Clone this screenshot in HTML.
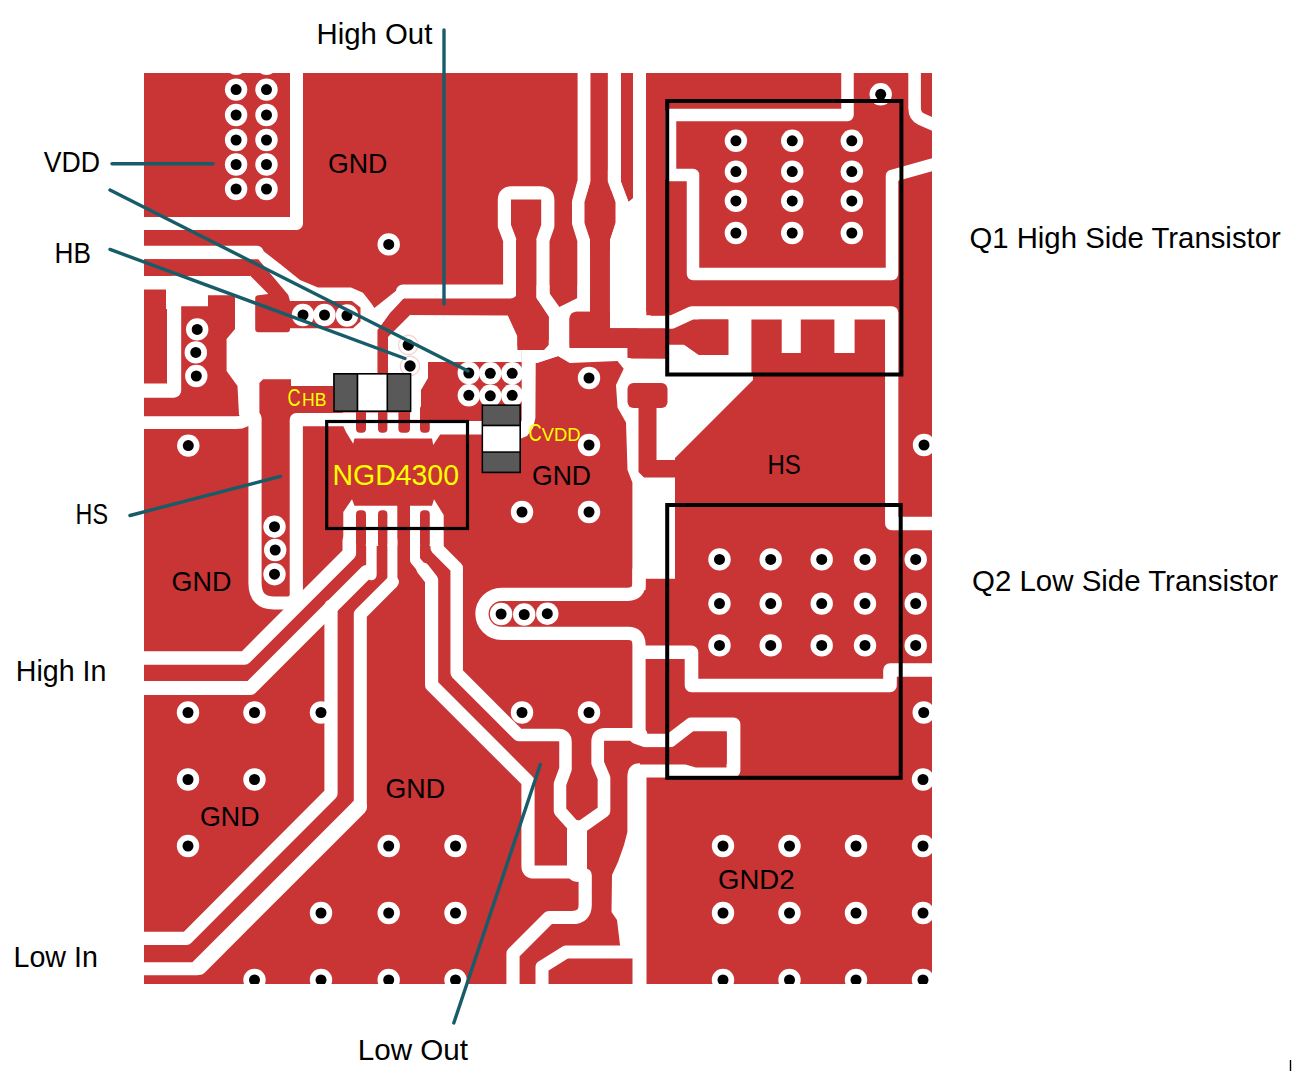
<!DOCTYPE html>
<html><head><meta charset="utf-8"><title>PCB layout</title>
<style>
html,body{margin:0;padding:0;background:#fff;}
body{width:1293px;height:1071px;overflow:hidden;position:relative;font-family:"Liberation Sans",sans-serif;}
svg{position:absolute;left:0;top:0;display:block;}
text{font-family:"Liberation Sans",sans-serif;}
</style></head><body>
<svg width="1293" height="1071" viewBox="0 0 1293 1071">
<defs><clipPath id="pcb"><rect x="144" y="73" width="788" height="911"/></clipPath></defs>
<g clip-path="url(#pcb)">
<rect x="144" y="73" width="788" height="911" fill="#C93434"/>
<!-- gaps -->
<path d="M296.5,60 V223.5 H130" fill="none" stroke="#fff" stroke-width="13" stroke-linecap="round" stroke-linejoin="round" />
<path d="M130,252.5 H257" fill="none" stroke="#fff" stroke-width="13.4" stroke-linecap="round" stroke-linejoin="round" />
<path d="M130,282.7 H250" fill="none" stroke="#fff" stroke-width="13.4" stroke-linecap="round" stroke-linejoin="round" />
<path d="M174.1,282.7 V390.6 H130" fill="none" stroke="#fff" stroke-width="14.2" stroke-linecap="round" stroke-linejoin="round" />
<polygon points="166,289 178,289 168,309 166,309" fill="#fff" />
<polygon points="181,288 236,288 236,295.3 208,295.3 208,306.2 181,306.2" fill="#fff" />
<path d="M130,422.7 H236 Q248,422.7 252,412" fill="none" stroke="#fff" stroke-width="12.7" stroke-linecap="round" stroke-linejoin="round" />
<polygon points="257,246 282,265.5 300,280 318,287.6 351,287.6 363,292.8 371,303 374.4,308 404,284.5 404,298.5 390,313 377.9,330 377.9,412 333,412 333,386 291,386 291,379.3 263,379.3 259.4,383 259.4,416 247,424 239,415 237.5,386 226.6,371 226.6,339 235,329 235,288 250,276 250,259" fill="#fff" />
<path d="M403,291.5 H510.4" fill="none" stroke="#fff" stroke-width="14" stroke-linecap="round" stroke-linejoin="round" stroke-linecap="butt"/>
<path d="M509.7,291.5 V240 L504.4,226 V200 Q504.4,192.8 512,192.8 H540 Q547.8,192.8 547.8,200 V226 L542.9,240 V296" fill="none" stroke="#fff" stroke-width="13.2" stroke-linecap="round" stroke-linejoin="round" />
<path d="M584.1,60 V181 L578.5,202 V223 L583.8,240 V300" fill="none" stroke="#fff" stroke-width="13" stroke-linecap="round" stroke-linejoin="round" stroke-linecap="butt"/>
<path d="M614.3,60 V185" fill="none" stroke="#fff" stroke-width="13.4" stroke-linecap="round" stroke-linejoin="round" />
<path d="M639.5,60 V322 H672 L692,312.8 H891.7 V523.5 H940" fill="none" stroke="#fff" stroke-width="13.3" stroke-linecap="round" stroke-linejoin="round" />
<polygon points="607.6,170 607.6,181 615.3,202 615.3,223 609.7,240 609.7,328.3 646.2,328.3 646.2,198 632.9,198 628.7,201.5 621,181 621,170" fill="#fff" />
<polygon points="536.2,285 536.2,298 548.7,316.7 548.7,345 544,350 521.7,350 521.7,362.5 536.7,363 558.3,356 570,363 570,348 569.5,345 569.5,318 575,311.7 590.1,311.7 590.1,285 577.5,285 577.5,298 559.4,307 549.5,293.2 549.5,285" fill="#fff" />
<polygon points="521.7,350 535.8,350 535.4,418 533,428 527,436 521,438.5 516,437 521.7,420" fill="#fff" />
<path d="M847.5,60 V115 H670 V175 H693 V274 H892 V176 L940,162.5" fill="none" stroke="#fff" stroke-width="12.5" stroke-linecap="round" stroke-linejoin="round" />
<path d="M914.6,60 V108 Q914.6,116 921,119 L940,127.5" fill="none" stroke="#fff" stroke-width="12.6" stroke-linecap="round" stroke-linejoin="round" />
<rect x="728" y="312" width="23.4" height="68" rx="0" fill="#fff"/>
<rect x="781.7" y="312" width="19.1" height="41" rx="0" fill="#fff"/>
<rect x="834.4" y="312" width="20.2" height="41" rx="0" fill="#fff"/>
<polygon points="570,348 627.5,348 627.5,358 666,358.6 666,344.4 684,344.4 699,354.9 728.5,354.9 753,376 753,380 675,458 675,578.7 645.6,578.7 645.6,590 632.4,590 632.4,482.5 627.5,470 626,422.5 617.5,407.5 616,385 623.7,368.7 617.5,361 570,363 558,356 537,363 537,350 549,340" fill="#fff" />
<polygon points="403,315 508,315.5 517.4,336 517.4,350 521.7,350 521.7,362 428,362 428,378 421,390 421,423 410.8,423 410.8,373 388,373 388,330" fill="#fff" />
<polygon points="342.8,412.4 420.8,412.4 420.8,421 482,421 482,434.5 440.2,434.5 433.2,445 432,438.5 354.4,438.5 353.2,443.7 346,432 342.8,425" fill="#fff" />
<polygon points="343.3,546 343.3,512 352,499.3 354.5,505.7 397.3,505.7 397.3,546" fill="#fff" />
<polygon points="410,546 410,505.7 432,505.7 434,499.3 443.7,515 443.7,546" fill="#fff" />
<path d="M255,418 V583 Q255,603 274,603 H291 L296.3,598 V419.6 H345" fill="none" stroke="#fff" stroke-width="13.2" stroke-linecap="round" stroke-linejoin="round" />
<path d="M130,658 H244.7 L349.3,553.4 V540" fill="none" stroke="#fff" stroke-width="13.6" stroke-linecap="round" stroke-linejoin="round" />
<path d="M130,688 H250.5 L366.5,572" fill="none" stroke="#fff" stroke-width="14" stroke-linecap="round" stroke-linejoin="round" />
<path d="M371.4,540 V575" fill="none" stroke="#fff" stroke-width="10.5" stroke-linecap="round" stroke-linejoin="round" />
<path d="M331,606 V793.5 L186.5,938.3 H130" fill="none" stroke="#fff" stroke-width="13.2" stroke-linecap="round" stroke-linejoin="round" />
<path d="M392.4,540 V584" fill="none" stroke="#fff" stroke-width="10" stroke-linecap="round" stroke-linejoin="round" />
<path d="M392.4,582 L360.3,614.1 V805.7 L197.3,968.7 H130" fill="none" stroke="#fff" stroke-width="13" stroke-linecap="round" stroke-linejoin="round" />
<path d="M359,807 L199,967" fill="none" stroke="#fff" stroke-width="16" stroke-linecap="round" stroke-linejoin="round" />
<path d="M415,540 V560 L424,571" fill="none" stroke="#fff" stroke-width="10" stroke-linecap="round" stroke-linejoin="round" />
<path d="M423,569 L431.6,580 V685 L528,781.4 V866 Q528,872 534,872 H577" fill="none" stroke="#fff" stroke-width="13.2" stroke-linecap="round" stroke-linejoin="round" />
<path d="M436.7,540 V548 L456.7,568 V673 L518.7,735 H558 Q565.5,735 565.5,742 V769 L560,784 V811 L577,830" fill="none" stroke="#fff" stroke-width="12.5" stroke-linecap="round" stroke-linejoin="round" />
<path d="M641,734.3 H605 Q597.7,734.3 597.7,742 V763 L604,778 V811 L577,830" fill="none" stroke="#fff" stroke-width="12.7" stroke-linecap="round" stroke-linejoin="round" />
<path d="M577,830 V872" fill="none" stroke="#fff" stroke-width="20" stroke-linecap="round" stroke-linejoin="round" />
<path d="M585.2,875 V905 Q585.2,917.5 572,917.5 H549 L513,953.5 V995" fill="none" stroke="#fff" stroke-width="13.2" stroke-linecap="round" stroke-linejoin="round" />
<path d="M632,952 H566 L542,967 V995" fill="none" stroke="#fff" stroke-width="13" stroke-linecap="round" stroke-linejoin="round" />
<path d="M639,570 V583 Q639,594.3 628,594.3 H501.5 A19.55,19.55 0 0 0 501.5,633.4 H628 Q639,633.4 639,645 V736" fill="none" stroke="#fff" stroke-width="13.2" stroke-linecap="round" stroke-linejoin="round" />
<path d="M645,652.2 H691.5 V685.5 H890 V670 H940" fill="none" stroke="#fff" stroke-width="13.6" stroke-linecap="round" stroke-linejoin="round" />
<path d="M636,737 L646,740.5 H670 L691,724.4 H733.6 V770.7 H645" fill="none" stroke="#fff" stroke-width="13.6" stroke-linecap="round" stroke-linejoin="round" />
<path d="M627.4,777 Q627.4,763.2 640,763.2 H646.5 V990 H632.5 V958 L620,945 L617,920 L611.5,912 L612,875 L618,862 L624,845 L627.4,832 Z" fill="#fff"/>
<!-- red overlays -->
<path d="M144,259.2 H258.3 L288.3,295 L290,301 H352 L360.5,307.5 V321.5 L353,328.2 H290 V329 Q290,332.3 287,332.3 H258.5 Q255.2,332.3 255.2,329 V298.5 Q255.2,295.3 258.5,295.3 L268.3,294 L250,275.5 H144 Z" fill="#C93434"/>
<polygon points="403,299 515,299 515,315 410,315 388,337 388,412 377.5,412 377.5,330" fill="#C93434" />
<polygon points="516,240 536.2,240 536.2,298 548.7,316.7 548.7,345 544,350 521,350 517.4,346 517.4,336 508,315.5 506.7,313 506.7,299 516,299" fill="#C93434" />
<path d="M569.5,348 V319 Q569.5,311.7 577,311.7 H609.8 V348 Z" fill="#C93434"/>
<rect x="590.1" y="240" width="19.6" height="90" rx="0" fill="#C93434"/>
<polygon points="600,328.3 665,328.3 665,358.6 631,358.6 627.8,355 627.8,347 600,347" fill="#C93434" />
<polygon points="590.8,73 607.6,73 607.6,181 615.3,202 615.3,223 609.7,240 609.7,250 590.1,250 590.1,240 584.5,223 584.5,202 590.8,181" fill="#C93434" />
<polygon points="621,73 632.9,73 632.9,198 628.7,201.5 621,181" fill="#C93434" />
<polygon points="646.2,73 665,73 665,315.8 651,315.8 646.2,311" fill="#C93434" />
<polygon points="646,329.5 684.4,329.5 699,319.6 728.5,319.6 728.5,354.9 699,354.9 684,344.4 646,344.4" fill="#C93434" />
<rect x="627.5" y="383" width="40" height="25" rx="6" fill="#C93434"/>
<polygon points="638.5,400 656.5,400 656.5,460 690,460 690,477.5 644,477.5 638.5,472" fill="#C93434" />
<rect x="356" y="405" width="10" height="27.7" rx="4" fill="#C93434"/>
<rect x="378" y="405" width="9.4" height="27.7" rx="4" fill="#C93434"/>
<rect x="398.4" y="405" width="11.6" height="27.7" rx="4" fill="#C93434"/>
<rect x="420" y="405" width="9.8" height="27.7" rx="4" fill="#C93434"/>
<rect x="356" y="510.3" width="10" height="37.7" rx="4" fill="#C93434"/>
<rect x="378" y="510.3" width="9.4" height="37.7" rx="4" fill="#C93434"/>
<rect x="420" y="510.3" width="9.8" height="37.7" rx="4" fill="#C93434"/>
<polygon points="640,747.6 677,747.6 695.8,732.2 726.5,732.2 726.5,767.5 695.8,767.5 685.5,764.4 640,764.4" fill="#C93434" />
<!-- vias -->
<circle cx="236.1" cy="63.8" r="11.2" fill="#fff"/><circle cx="236.1" cy="63.8" r="5.5" fill="#000"/>
<circle cx="236.1" cy="89.6" r="11.2" fill="#fff"/><circle cx="236.1" cy="89.6" r="5.5" fill="#000"/>
<circle cx="236.1" cy="115" r="11.2" fill="#fff"/><circle cx="236.1" cy="115" r="5.5" fill="#000"/>
<circle cx="236.1" cy="140" r="11.2" fill="#fff"/><circle cx="236.1" cy="140" r="5.5" fill="#000"/>
<circle cx="236.1" cy="164.5" r="11.2" fill="#fff"/><circle cx="236.1" cy="164.5" r="5.5" fill="#000"/>
<circle cx="236.1" cy="189" r="11.2" fill="#fff"/><circle cx="236.1" cy="189" r="5.5" fill="#000"/>
<circle cx="266.5" cy="63.8" r="11.2" fill="#fff"/><circle cx="266.5" cy="63.8" r="5.5" fill="#000"/>
<circle cx="266.5" cy="89.6" r="11.2" fill="#fff"/><circle cx="266.5" cy="89.6" r="5.5" fill="#000"/>
<circle cx="266.5" cy="115" r="11.2" fill="#fff"/><circle cx="266.5" cy="115" r="5.5" fill="#000"/>
<circle cx="266.5" cy="140" r="11.2" fill="#fff"/><circle cx="266.5" cy="140" r="5.5" fill="#000"/>
<circle cx="266.5" cy="164.5" r="11.2" fill="#fff"/><circle cx="266.5" cy="164.5" r="5.5" fill="#000"/>
<circle cx="266.5" cy="189" r="11.2" fill="#fff"/><circle cx="266.5" cy="189" r="5.5" fill="#000"/>
<circle cx="388.7" cy="244.4" r="11.2" fill="#fff"/><circle cx="388.7" cy="244.4" r="5.5" fill="#000"/>
<circle cx="197.2" cy="329.4" r="11.2" fill="#fff"/><circle cx="197.2" cy="329.4" r="5.5" fill="#000"/>
<circle cx="195.8" cy="352.4" r="11.2" fill="#fff"/><circle cx="195.8" cy="352.4" r="5.5" fill="#000"/>
<circle cx="196.3" cy="376" r="11.2" fill="#fff"/><circle cx="196.3" cy="376" r="5.5" fill="#000"/>
<circle cx="303" cy="315" r="11.2" fill="#fff"/><circle cx="303" cy="315" r="5.5" fill="#000"/>
<circle cx="324.5" cy="315" r="11.2" fill="#fff"/><circle cx="324.5" cy="315" r="5.5" fill="#000"/>
<circle cx="347" cy="315.5" r="11.2" fill="#fff"/><circle cx="347" cy="315.5" r="5.5" fill="#000"/>
<circle cx="468.8" cy="373" r="11.2" fill="#fff"/><circle cx="468.8" cy="373" r="5.5" fill="#000"/>
<circle cx="490.3" cy="373.3" r="11.2" fill="#fff"/><circle cx="490.3" cy="373.3" r="5.5" fill="#000"/>
<circle cx="512.2" cy="373.3" r="11.2" fill="#fff"/><circle cx="512.2" cy="373.3" r="5.5" fill="#000"/>
<circle cx="468.8" cy="395.3" r="11.2" fill="#fff"/><circle cx="468.8" cy="395.3" r="5.5" fill="#000"/>
<circle cx="490.3" cy="395.8" r="11.2" fill="#fff"/><circle cx="490.3" cy="395.8" r="5.5" fill="#000"/>
<circle cx="512.2" cy="395.3" r="11.2" fill="#fff"/><circle cx="512.2" cy="395.3" r="5.5" fill="#000"/>
<circle cx="188.3" cy="445.6" r="11.2" fill="#fff"/><circle cx="188.3" cy="445.6" r="5.5" fill="#000"/>
<circle cx="274.5" cy="526.7" r="11.2" fill="#fff"/><circle cx="274.5" cy="526.7" r="5.5" fill="#000"/>
<circle cx="275.2" cy="550" r="11.2" fill="#fff"/><circle cx="275.2" cy="550" r="5.5" fill="#000"/>
<circle cx="274.5" cy="574.2" r="11.2" fill="#fff"/><circle cx="274.5" cy="574.2" r="5.5" fill="#000"/>
<circle cx="589" cy="378" r="11.2" fill="#fff"/><circle cx="589" cy="378" r="5.5" fill="#000"/>
<circle cx="589" cy="445" r="11.2" fill="#fff"/><circle cx="589" cy="445" r="5.5" fill="#000"/>
<circle cx="589" cy="512" r="11.2" fill="#fff"/><circle cx="589" cy="512" r="5.5" fill="#000"/>
<circle cx="522" cy="512" r="11.2" fill="#fff"/><circle cx="522" cy="512" r="5.5" fill="#000"/>
<circle cx="880.7" cy="94.3" r="11.2" fill="#fff"/><circle cx="880.7" cy="94.3" r="5.5" fill="#000"/>
<circle cx="924" cy="445" r="11.2" fill="#fff"/><circle cx="924" cy="445" r="5.5" fill="#000"/>
<circle cx="501.1" cy="614" r="11.2" fill="#fff"/><circle cx="501.1" cy="614" r="5.5" fill="#000"/>
<circle cx="524.2" cy="614.5" r="11.2" fill="#fff"/><circle cx="524.2" cy="614.5" r="5.5" fill="#000"/>
<circle cx="547.3" cy="613.7" r="11.2" fill="#fff"/><circle cx="547.3" cy="613.7" r="5.5" fill="#000"/>
<circle cx="735.9" cy="140.8" r="11.2" fill="#fff"/><circle cx="735.9" cy="140.8" r="5.5" fill="#000"/>
<circle cx="735.9" cy="171.6" r="11.2" fill="#fff"/><circle cx="735.9" cy="171.6" r="5.5" fill="#000"/>
<circle cx="735.9" cy="200.9" r="11.2" fill="#fff"/><circle cx="735.9" cy="200.9" r="5.5" fill="#000"/>
<circle cx="735.9" cy="233" r="11.2" fill="#fff"/><circle cx="735.9" cy="233" r="5.5" fill="#000"/>
<circle cx="792.2" cy="140.8" r="11.2" fill="#fff"/><circle cx="792.2" cy="140.8" r="5.5" fill="#000"/>
<circle cx="792.2" cy="171.6" r="11.2" fill="#fff"/><circle cx="792.2" cy="171.6" r="5.5" fill="#000"/>
<circle cx="792.2" cy="200.9" r="11.2" fill="#fff"/><circle cx="792.2" cy="200.9" r="5.5" fill="#000"/>
<circle cx="792.2" cy="233" r="11.2" fill="#fff"/><circle cx="792.2" cy="233" r="5.5" fill="#000"/>
<circle cx="851.8" cy="140.8" r="11.2" fill="#fff"/><circle cx="851.8" cy="140.8" r="5.5" fill="#000"/>
<circle cx="851.8" cy="171.6" r="11.2" fill="#fff"/><circle cx="851.8" cy="171.6" r="5.5" fill="#000"/>
<circle cx="851.8" cy="200.9" r="11.2" fill="#fff"/><circle cx="851.8" cy="200.9" r="5.5" fill="#000"/>
<circle cx="851.8" cy="233" r="11.2" fill="#fff"/><circle cx="851.8" cy="233" r="5.5" fill="#000"/>
<circle cx="719.5" cy="559.4" r="11.2" fill="#fff"/><circle cx="719.5" cy="559.4" r="5.5" fill="#000"/>
<circle cx="719.5" cy="603.6" r="11.2" fill="#fff"/><circle cx="719.5" cy="603.6" r="5.5" fill="#000"/>
<circle cx="719.5" cy="645.4" r="11.2" fill="#fff"/><circle cx="719.5" cy="645.4" r="5.5" fill="#000"/>
<circle cx="770.7" cy="559.4" r="11.2" fill="#fff"/><circle cx="770.7" cy="559.4" r="5.5" fill="#000"/>
<circle cx="770.7" cy="603.6" r="11.2" fill="#fff"/><circle cx="770.7" cy="603.6" r="5.5" fill="#000"/>
<circle cx="770.7" cy="645.4" r="11.2" fill="#fff"/><circle cx="770.7" cy="645.4" r="5.5" fill="#000"/>
<circle cx="821.7" cy="559.4" r="11.2" fill="#fff"/><circle cx="821.7" cy="559.4" r="5.5" fill="#000"/>
<circle cx="821.7" cy="603.6" r="11.2" fill="#fff"/><circle cx="821.7" cy="603.6" r="5.5" fill="#000"/>
<circle cx="821.7" cy="645.4" r="11.2" fill="#fff"/><circle cx="821.7" cy="645.4" r="5.5" fill="#000"/>
<circle cx="865" cy="559.4" r="11.2" fill="#fff"/><circle cx="865" cy="559.4" r="5.5" fill="#000"/>
<circle cx="865" cy="603.6" r="11.2" fill="#fff"/><circle cx="865" cy="603.6" r="5.5" fill="#000"/>
<circle cx="865" cy="645.4" r="11.2" fill="#fff"/><circle cx="865" cy="645.4" r="5.5" fill="#000"/>
<circle cx="915.7" cy="559.4" r="11.2" fill="#fff"/><circle cx="915.7" cy="559.4" r="5.5" fill="#000"/>
<circle cx="915.7" cy="603.6" r="11.2" fill="#fff"/><circle cx="915.7" cy="603.6" r="5.5" fill="#000"/>
<circle cx="915.7" cy="645.4" r="11.2" fill="#fff"/><circle cx="915.7" cy="645.4" r="5.5" fill="#000"/>
<circle cx="188" cy="712.5" r="11.2" fill="#fff"/><circle cx="188" cy="712.5" r="5.5" fill="#000"/>
<circle cx="254.5" cy="712.5" r="11.2" fill="#fff"/><circle cx="254.5" cy="712.5" r="5.5" fill="#000"/>
<circle cx="321" cy="712.5" r="11.2" fill="#fff"/><circle cx="321" cy="712.5" r="5.5" fill="#000"/>
<circle cx="522" cy="712.5" r="11.2" fill="#fff"/><circle cx="522" cy="712.5" r="5.5" fill="#000"/>
<circle cx="589" cy="712.5" r="11.2" fill="#fff"/><circle cx="589" cy="712.5" r="5.5" fill="#000"/>
<circle cx="923.7" cy="712.5" r="11.2" fill="#fff"/><circle cx="923.7" cy="712.5" r="5.5" fill="#000"/>
<circle cx="188" cy="779.5" r="11.2" fill="#fff"/><circle cx="188" cy="779.5" r="5.5" fill="#000"/>
<circle cx="254.5" cy="779.5" r="11.2" fill="#fff"/><circle cx="254.5" cy="779.5" r="5.5" fill="#000"/>
<circle cx="923" cy="779.5" r="11.2" fill="#fff"/><circle cx="923" cy="779.5" r="5.5" fill="#000"/>
<circle cx="188" cy="846" r="11.2" fill="#fff"/><circle cx="188" cy="846" r="5.5" fill="#000"/>
<circle cx="388.7" cy="846" r="11.2" fill="#fff"/><circle cx="388.7" cy="846" r="5.5" fill="#000"/>
<circle cx="455.5" cy="846" r="11.2" fill="#fff"/><circle cx="455.5" cy="846" r="5.5" fill="#000"/>
<circle cx="723" cy="846" r="11.2" fill="#fff"/><circle cx="723" cy="846" r="5.5" fill="#000"/>
<circle cx="789.5" cy="846" r="11.2" fill="#fff"/><circle cx="789.5" cy="846" r="5.5" fill="#000"/>
<circle cx="856" cy="846" r="11.2" fill="#fff"/><circle cx="856" cy="846" r="5.5" fill="#000"/>
<circle cx="923" cy="846" r="11.2" fill="#fff"/><circle cx="923" cy="846" r="5.5" fill="#000"/>
<circle cx="321" cy="913" r="11.2" fill="#fff"/><circle cx="321" cy="913" r="5.5" fill="#000"/>
<circle cx="388.7" cy="913" r="11.2" fill="#fff"/><circle cx="388.7" cy="913" r="5.5" fill="#000"/>
<circle cx="455.5" cy="913" r="11.2" fill="#fff"/><circle cx="455.5" cy="913" r="5.5" fill="#000"/>
<circle cx="723" cy="913" r="11.2" fill="#fff"/><circle cx="723" cy="913" r="5.5" fill="#000"/>
<circle cx="789.5" cy="913" r="11.2" fill="#fff"/><circle cx="789.5" cy="913" r="5.5" fill="#000"/>
<circle cx="856" cy="913" r="11.2" fill="#fff"/><circle cx="856" cy="913" r="5.5" fill="#000"/>
<circle cx="923" cy="913" r="11.2" fill="#fff"/><circle cx="923" cy="913" r="5.5" fill="#000"/>
<circle cx="254.5" cy="980" r="11.2" fill="#fff"/><circle cx="254.5" cy="980" r="5.5" fill="#000"/>
<circle cx="321" cy="980" r="11.2" fill="#fff"/><circle cx="321" cy="980" r="5.5" fill="#000"/>
<circle cx="388.7" cy="980" r="11.2" fill="#fff"/><circle cx="388.7" cy="980" r="5.5" fill="#000"/>
<circle cx="455.5" cy="980" r="11.2" fill="#fff"/><circle cx="455.5" cy="980" r="5.5" fill="#000"/>
<circle cx="723" cy="980" r="11.2" fill="#fff"/><circle cx="723" cy="980" r="5.5" fill="#000"/>
<circle cx="789.5" cy="980" r="11.2" fill="#fff"/><circle cx="789.5" cy="980" r="5.5" fill="#000"/>
<circle cx="856" cy="980" r="11.2" fill="#fff"/><circle cx="856" cy="980" r="5.5" fill="#000"/>
<circle cx="923" cy="980" r="11.2" fill="#fff"/><circle cx="923" cy="980" r="5.5" fill="#000"/>
<circle cx="408.3" cy="345" r="9.6" fill="#fff" stroke="#f4d4d4" stroke-width="1.6"/><circle cx="410" cy="366" r="9.6" fill="#fff" stroke="#f4d4d4" stroke-width="1.6"/>
<circle cx="408.3" cy="345" r="9" fill="#fff"/><circle cx="408.3" cy="345" r="5.7" fill="#000"/>
<circle cx="410" cy="366" r="9" fill="#fff"/><circle cx="410" cy="366" r="5.7" fill="#000"/>
</g>
<!-- components -->
<rect x="333.1" y="373" width="78.3" height="39" fill="#000"/>
<rect x="334.8" y="374.6" width="21.8" height="35.8" fill="#595959"/>
<rect x="358.3" y="374.6" width="28.2" height="35.8" fill="#fff"/>
<rect x="388.1" y="374.6" width="21.8" height="35.8" fill="#595959"/>
<rect x="481.6" y="404.4" width="39.4" height="68.8" fill="#000"/>
<rect x="483.1" y="406" width="36.3" height="18.6" fill="#595959"/>
<rect x="483.1" y="426.3" width="36.3" height="25" fill="#fff"/>
<rect x="483.1" y="452.8" width="36.3" height="18.8" fill="#595959"/>
<rect x="667.2" y="101" width="234.2" height="273.5" fill="none" stroke="#000" stroke-width="4"/>
<rect x="667.2" y="505" width="233.5" height="272.8" fill="none" stroke="#000" stroke-width="4"/>
<rect x="326.7" y="421.5" width="140.8" height="107" fill="none" stroke="#000" stroke-width="3.2"/>
<!-- leaders -->
<line x1="444" y1="30" x2="444" y2="304" stroke="#175C69" stroke-width="3.4" stroke-linecap="round"/>
<line x1="112" y1="163.8" x2="213" y2="163.8" stroke="#175C69" stroke-width="3.4" stroke-linecap="round"/>
<line x1="110" y1="190" x2="468" y2="371" stroke="#175C69" stroke-width="3.4" stroke-linecap="round"/>
<line x1="110" y1="249.4" x2="405" y2="358.5" stroke="#175C69" stroke-width="3.4" stroke-linecap="round"/>
<line x1="130" y1="515.5" x2="280.5" y2="476.3" stroke="#175C69" stroke-width="3.4" stroke-linecap="round"/>
<line x1="540.3" y1="764.5" x2="453.8" y2="1023" stroke="#175C69" stroke-width="3.4" stroke-linecap="round"/>
<!-- labels -->
<text x="316.5" y="44.4" font-size="30" fill="#000" textLength="115.8" lengthAdjust="spacingAndGlyphs" >High Out</text>
<text x="43.7" y="171.8" font-size="30" fill="#000" textLength="56.3" lengthAdjust="spacingAndGlyphs" >VDD</text>
<text x="54.6" y="263" font-size="30" fill="#000" textLength="36.4" lengthAdjust="spacingAndGlyphs" >HB</text>
<text x="75.6" y="523.7" font-size="30" fill="#000" textLength="32.4" lengthAdjust="spacingAndGlyphs" >HS</text>
<text x="15.8" y="680.7" font-size="30" fill="#000" textLength="90.7" lengthAdjust="spacingAndGlyphs" >High In</text>
<text x="13.5" y="967.2" font-size="30" fill="#000" textLength="84.3" lengthAdjust="spacingAndGlyphs" >Low In</text>
<text x="357.7" y="1060" font-size="30" fill="#000" textLength="110.3" lengthAdjust="spacingAndGlyphs" >Low Out</text>
<text x="969.4" y="247.9" font-size="30" fill="#000" textLength="311.4" lengthAdjust="spacingAndGlyphs" >Q1 High Side Transistor</text>
<text x="972" y="591.4" font-size="30" fill="#000" textLength="306" lengthAdjust="spacingAndGlyphs" >Q2 Low Side Transistor</text>
<text x="328" y="172.6" font-size="28" fill="#000" textLength="59.4" lengthAdjust="spacingAndGlyphs" >GND</text>
<text x="532" y="485" font-size="28" fill="#000" textLength="59" lengthAdjust="spacingAndGlyphs" >GND</text>
<text x="171.6" y="591" font-size="28" fill="#000" textLength="59.8" lengthAdjust="spacingAndGlyphs" >GND</text>
<text x="200" y="825.5" font-size="28" fill="#000" textLength="59.5" lengthAdjust="spacingAndGlyphs" >GND</text>
<text x="385.5" y="798" font-size="28" fill="#000" textLength="59.5" lengthAdjust="spacingAndGlyphs" >GND</text>
<text x="718" y="889" font-size="28" fill="#000" textLength="76.5" lengthAdjust="spacingAndGlyphs" >GND2</text>
<text x="767.5" y="474" font-size="28" fill="#000" textLength="33.3" lengthAdjust="spacingAndGlyphs" >HS</text>
<text x="332.5" y="485" font-size="29" fill="#FFFF00" textLength="126.5" lengthAdjust="spacingAndGlyphs" >NGD4300</text>
<text x="287.5" y="406" font-size="24" fill="#FFFF00" textLength="13.1" lengthAdjust="spacingAndGlyphs" >C</text>
<text x="302" y="406" font-size="18.5" fill="#FFFF00" textLength="24.4" lengthAdjust="spacingAndGlyphs" >HB</text>
<text x="528.4" y="440.6" font-size="24" fill="#FFFF00" textLength="13.2" lengthAdjust="spacingAndGlyphs" >C</text>
<text x="541.8" y="440.6" font-size="18" fill="#FFFF00" textLength="38.8" lengthAdjust="spacingAndGlyphs" >VDD</text>
<rect x="1289.8" y="1060" width="1.4" height="11" fill="#000"/>
</svg></body></html>
